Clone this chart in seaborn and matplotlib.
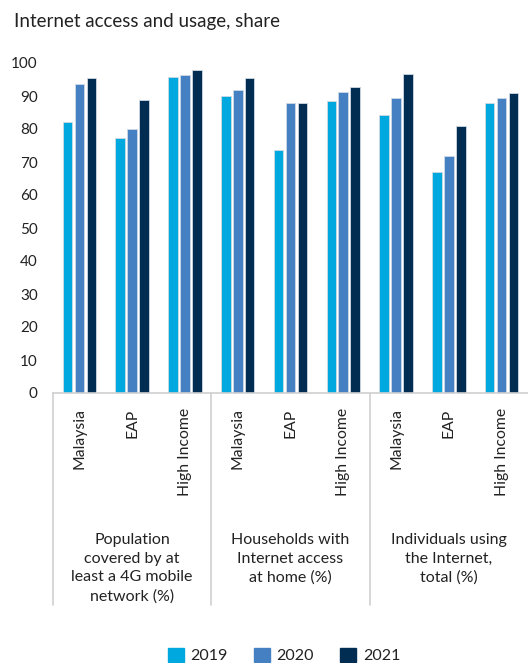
import matplotlib
matplotlib.use("Agg")
import matplotlib.pyplot as plt
import matplotlib.transforms as mtransforms
from matplotlib.lines import Line2D
import seaborn as sns
import pandas as pd

# Indicator groups and the economies compared within each
groups = [
    "Population\ncovered by at\nleast a 4G mobile\nnetwork (%)",
    "Households with\nInternet access\nat home (%)",
    "Individuals using\nthe Internet,\ntotal (%)",
]
economies = ["Malaysia", "EAP", "High Income"]
years = ["2019", "2020", "2021"]

# Values per year, ordered group by group (Malaysia, EAP, High Income)
values_2019 = [82.1, 77.3, 95.8, 90.1, 73.7, 88.4, 84.1, 66.9, 87.9]
values_2020 = [93.5, 80.1, 96.3, 91.7, 88.0, 91.2, 89.5, 71.7, 89.4]
values_2021 = [95.4, 88.7, 98.0, 95.5, 88.0, 92.8, 96.8, 80.8, 91.0]

colors = ["#00a8e0", "#4580c3", "#022d52"]

rows = []
for year, vals in zip(years, [values_2019, values_2020, values_2021]):
    for i, v in enumerate(vals):
        rows.append({"slot": i, "year": year, "value": v})
df = pd.DataFrame(rows)

sns.set_theme(style="white")
plt.rcParams["font.family"] = ["Lato", "DejaVu Sans"]
text_color = "#222222"

fig = plt.figure(figsize=(5.28, 6.63), dpi=100)
W, H = 528, 663
ax = fig.add_axes([53 / W, 1 - 393 / H, (528 - 53) / W, (393 - 63) / H])

sns.barplot(
    data=df, x="slot", y="value", hue="year", hue_order=years,
    palette=colors, saturation=1, width=0.68, gap=0.2,
    edgecolor="#cfd9e4", linewidth=0.6, ax=ax, legend=False,
)

ax.set_xlim(-0.5, 8.5)
ax.set_ylim(0, 100)
ax.set_yticks(range(0, 101, 10))
ax.tick_params(axis="y", length=0, pad=11, labelsize=11, labelcolor=text_color)
ax.set_xlabel("")
ax.set_ylabel("")
for side in ["left", "right", "top"]:
    ax.spines[side].set_visible(False)
ax.spines["bottom"].set_color("#d0d0d0")
ax.spines["bottom"].set_linewidth(1.2)

# Economy labels under each bar cluster
ax.set_xticks(range(9))
ax.set_xticklabels(economies * 3, rotation=90, va="top", ha="center",
                   fontsize=11.3, color=text_color)
ax.tick_params(axis="x", length=0, pad=11)

# Group separators and group names
trans = mtransforms.blended_transform_factory(ax.transData, ax.transAxes)
y_sep_bottom = (393 - 605) / 330
for xb in [-0.5, 2.5, 5.5]:
    ax.add_line(Line2D([xb, xb], [0, y_sep_bottom], transform=trans,
                       color="#d0d0d0", lw=1.2, clip_on=False))
y_group = (393 - 533) / 330
for gi, name in enumerate(groups):
    ax.text(gi * 3 + 1, y_group, name, transform=trans, ha="center", va="top",
            fontsize=11.5, color=text_color, linespacing=1.42)

# Title
fig.text(14 / W, 1 - 22 / H, "Internet access and usage, share",
         fontsize=13.5, color=text_color, va="center", ha="left")

# Legend
handles = [plt.Rectangle((0, 0), 1, 1, color=c) for c in colors]
fig.legend(handles, years, loc="lower center", bbox_to_anchor=(0.538, -0.022),
           ncol=3, frameon=False, fontsize=11.5, handlelength=1.0,
           handleheight=1.0, handletextpad=0.4, columnspacing=1.65,
           labelcolor=text_color)

fig.savefig("out.png", dpi=100)
